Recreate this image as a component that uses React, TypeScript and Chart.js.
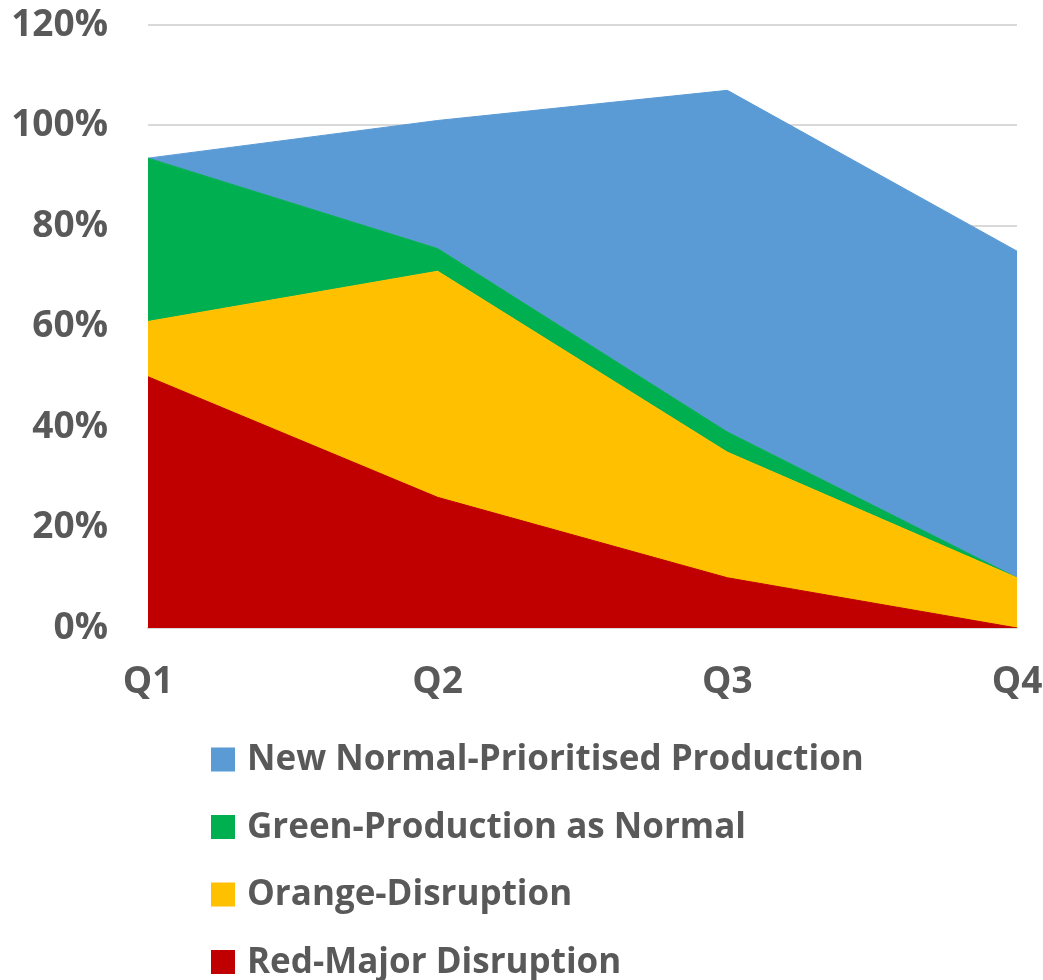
import { useEffect, useRef } from 'react';
import { Chart, registerables } from 'chart.js';

Chart.register(...registerables);

// Quarterly production status, stacked percentages
const quarters = ['Q1', 'Q2', 'Q3', 'Q4'];
const redMajorDisruption = [50, 26, 10, 0];
const orangeDisruption = [11, 45, 25, 10];
const greenProductionNormal = [32.5, 4.5, 4, 0];
const newNormalPrioritised = [0, 25.5, 68, 65];
const yTickValues = [0, 20, 40, 60, 80, 100, 120];

const seriesLabels = [
  'Red-Major Disruption',
  'Orange-Disruption',
  'Green-Production as Normal',
  'New Normal-Prioritised Production',
];
const seriesColors = ['#C00000', '#FFC000', '#00B050', '#5B9BD5'];

const TEXT_COLOR = '#595959';
const FONT_FAMILY = '"Open Sans", "Noto Sans", sans-serif';
const AXIS_FONT_SIZE = 37;
const LEGEND_FONT_SIZE = 35;

// Scales keep the plot box fixed; labels may overhang into the margins
function clearScalePadding(scale: any) {
  scale.paddingTop = 0;
  scale.paddingBottom = 0;
  scale.paddingLeft = 0;
  scale.paddingRight = 0;
}

// Vertical legend listed under the plot, top series first
const verticalLegend = {
  id: 'verticalLegend',
  afterDraw(chart: any) {
    const { ctx, chartArea } = chart;
    const items = chart.data.datasets.slice().reverse();
    const firstRow = chartArea.bottom + 131.5;
    const rowGap = 67.5;
    const box = 24;
    const boxLeft = 211;
    const textLeft = 247;
    ctx.save();
    ctx.font = `bold ${LEGEND_FONT_SIZE}px ${FONT_FAMILY}`;
    ctx.textBaseline = 'middle';
    ctx.textAlign = 'left';
    items.forEach((ds: any, i: number) => {
      const cy = firstRow + i * rowGap;
      ctx.fillStyle = ds.backgroundColor;
      ctx.fillRect(boxLeft, cy - box / 2, box, box);
      ctx.fillStyle = TEXT_COLOR;
      ctx.fillText(ds.label, textLeft, cy + 1);
    });
    ctx.restore();
  },
};

export default function App() {
  const canvasRef = useRef<HTMLCanvasElement | null>(null);

  useEffect(() => {
    if (!canvasRef.current) return;
    const seriesData = [
      redMajorDisruption,
      orangeDisruption,
      greenProductionNormal,
      newNormalPrioritised,
    ];
    const chart = new Chart(canvasRef.current, {
      type: 'line',
      data: {
        labels: quarters,
        datasets: seriesData.map((values, i) => ({
          label: seriesLabels[i],
          data: values,
          backgroundColor: seriesColors[i],
          borderColor: seriesColors[i],
          borderWidth: 1,
          pointRadius: 0,
          pointHoverRadius: 0,
          tension: 0,
          fill: i === 0 ? 'origin' : '-1',
        })),
      },
      options: {
        responsive: false,
        animation: false,
        layout: { padding: { top: 25, right: 26, bottom: 252, left: 0 } },
        plugins: {
          legend: { display: false },
          tooltip: { enabled: false },
        },
        scales: {
          x: {
            offset: false,
            grid: { display: false, drawTicks: false },
            border: { display: true, color: '#D9D9D9', width: 2 },
            ticks: {
              color: TEXT_COLOR,
              padding: 32,
              maxRotation: 0,
              font: { family: FONT_FAMILY, size: AXIS_FONT_SIZE, weight: 'bold' },
            },
            afterFit(scale: any) {
              scale.height = 100;
              clearScalePadding(scale);
            },
          },
          y: {
            stacked: true,
            min: 0,
            max: 120,
            afterBuildTicks(scale: any) {
              scale.ticks = yTickValues.map((v) => ({ value: v }));
            },
            grid: { color: '#D9D9D9', lineWidth: 2, drawTicks: false },
            border: { display: false },
            ticks: {
              color: TEXT_COLOR,
              padding: 40,
              font: { family: FONT_FAMILY, size: AXIS_FONT_SIZE, weight: 'bold' },
              callback: (v: any) => `${v}%`,
            },
            afterFit(scale: any) {
              scale.width = 148;
              clearScalePadding(scale);
            },
          },
        },
      },
      plugins: [verticalLegend],
    });
    return () => chart.destroy();
  }, []);

  return (
    <div style={{ position: 'absolute', left: 0, top: 0, width: 1043, height: 980, background: '#fff' }}>
      <canvas ref={canvasRef} width={1043} height={980} style={{ display: 'block' }} />
    </div>
  );
}
